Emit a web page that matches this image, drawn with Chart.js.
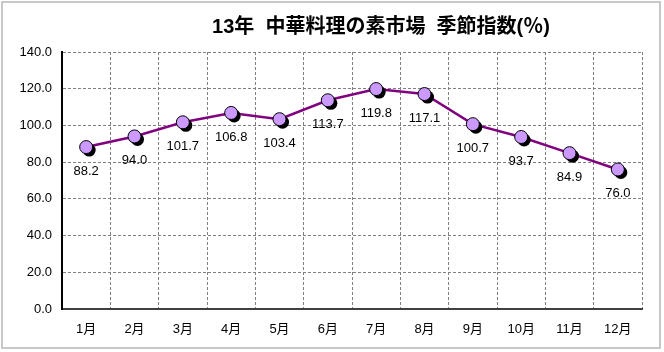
<!DOCTYPE html>
<html>
<head>
<meta charset="utf-8">
<script src="https://cdn.jsdelivr.net/npm/chart.js@4.4.1/dist/chart.umd.min.js"></script>
<style>
html,body{margin:0;padding:0;background:#fff;}
#wrap{width:664px;height:352px;position:relative;}
</style>
</head>
<body>
<div id="wrap"><canvas id="c" width="664" height="352"></canvas></div>
<script>
const titleText = "13年  中華料理の素市場  季節指数(％)";
const categories = ["1月","2月","3月","4月","5月","6月","7月","8月","9月","10月","11月","12月"];
const seasonalIndex = [88.2, 94.0, 101.7, 106.8, 103.4, 113.7, 119.8, 117.1, 100.7, 93.7, 84.9, 76.0];
const yTicks = [0, 20, 40, 60, 80, 100, 120, 140];

const FONT = '"Liberation Sans", Arial, "Noto Sans CJK JP", sans-serif';
const TITLE_FONT = '"Liberation Sans", "Noto Sans CJK JP", sans-serif';

const framePlugin = {
  id: 'frame',
  beforeDraw(chart) {
    const ctx = chart.ctx;
    ctx.save();
    ctx.fillStyle = '#ffffff';
    ctx.fillRect(0, 0, chart.width, chart.height);
    ctx.strokeStyle = '#c8c8c8';
    ctx.lineWidth = 2;
    ctx.strokeRect(2, 2, 658, 346);
    ctx.restore();
  },
  afterDraw(chart) {
    const ctx = chart.ctx;
    ctx.save();
    ctx.fillStyle = '#000';
    ctx.font = 'bold 20px ' + TITLE_FONT;
    ctx.textAlign = 'center';
    ctx.textBaseline = 'middle';
    ctx.fillText(titleText, 381, 27);
    ctx.restore();
  }
};

const shadowPlugin = {
  id: 'pointShadow',
  beforeDatasetDraw(chart, args) {
    if (args.index === 1) {
      const ctx = chart.ctx;
      const meta = chart.getDatasetMeta(1);
      ctx.save();
      ctx.fillStyle = '#000000';
      meta.data.forEach(pt => {
        ctx.beginPath();
        ctx.arc(pt.x + 3, pt.y + 3, 6.5, 0, Math.PI * 2);
        ctx.fill();
      });
      ctx.restore();
    }
  }
};

const labelPlugin = {
  id: 'valueLabels',
  afterDatasetsDraw(chart) {
    const meta = chart.getDatasetMeta(1);
    const ds = chart.data.datasets[1];
    const ctx = chart.ctx;
    ctx.save();
    ctx.fillStyle = '#000';
    ctx.font = '13px ' + FONT;
    ctx.textAlign = 'center';
    ctx.textBaseline = 'middle';
    meta.data.forEach((pt, i) => {
      ctx.fillText(ds.data[i].toFixed(1), pt.x, pt.y + 24);
    });
    ctx.restore();
  }
};

new Chart(document.getElementById('c'), {
  type: 'line',
  data: {
    labels: categories,
    datasets: [
      {
        data: seasonalIndex,
        borderColor: '#800080',
        borderWidth: 2.5,
        pointRadius: 0,
        fill: false,
        tension: 0,
        order: 2
      },
      {
        data: seasonalIndex,
        showLine: false,
        pointRadius: 6.5,
        pointBackgroundColor: '#CC99FF',
        pointBorderColor: '#000000',
        pointBorderWidth: 1,
        fill: false,
        order: 1
      }
    ]
  },
  options: {
    responsive: false,
    animation: false,
    devicePixelRatio: 1,
    layout: { padding: { left: 0, top: 52, right: 22, bottom: 0 } },
    plugins: {
      legend: { display: false },
      title: { display: false },
      tooltip: { enabled: false }
    },
    scales: {
      x: {
        offset: true,
        grid: {
          offset: true,
          color: '#808080',
          lineWidth: 1,
          drawTicks: false
        },
        border: { display: true, color: '#404040', width: 2, dash: [3, 2] },
        ticks: {
          color: '#000',
          font: { family: FONT, size: 13 },
          padding: 13,
          maxRotation: 0,
          autoSkip: false
        },
        afterFit(scale) { scale.height = 43; }
      },
      y: {
        min: 0,
        max: 140,
        afterBuildTicks(scale) { scale.ticks = yTicks.map(v => ({ value: v })); },
        grid: {
          color: '#808080',
          lineWidth: 1,
          drawTicks: false
        },
        border: { display: true, color: '#000000', width: 2, dash: [3, 2] },
        ticks: {
          color: '#000',
          font: { family: FONT, size: 13 },
          padding: 10,
          callback: v => Number(v).toFixed(1)
        },
        afterFit(scale) { scale.width = 62; }
      }
    }
  },
  plugins: [framePlugin, shadowPlugin, labelPlugin]
});
</script>
</body>
</html>
